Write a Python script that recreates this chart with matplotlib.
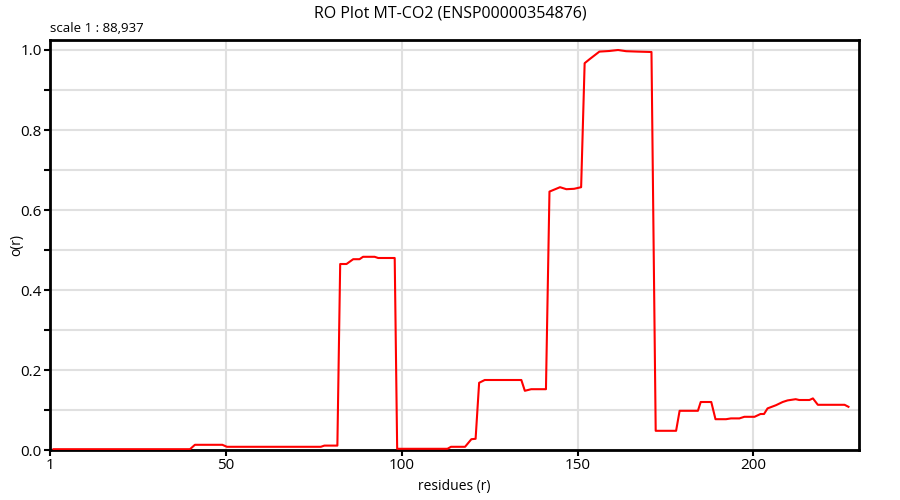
import matplotlib.pyplot as plt
from matplotlib.ticker import MultipleLocator

plt.rcParams['font.family'] = ['Open Sans', 'DejaVu Sans']

# residue positions and RO values
residues = [1, 39.8, 41.2, 49, 50.3, 77, 78, 81.7, 82.5, 84.3, 86.2, 88, 89, 92.3, 93.3,
            98, 98.7, 113, 114, 118, 119.8, 121, 122, 123.6, 134, 135, 136.8, 141,
            142, 145, 146.8, 149, 151, 152, 153.4, 156.2, 159, 161.5, 163.8, 167, 171,
            172.2, 178, 179, 184.2, 185, 188, 189.2, 192.2, 193.6, 196, 197.4, 200.3,
            202, 203, 204, 206.4, 208.3, 209.7, 212, 213, 215.9, 216.9, 218.3, 225.9, 227]
ro_values = [0.002, 0.002, 0.013, 0.013, 0.008, 0.008, 0.011, 0.011, 0.465, 0.465, 0.477,
             0.477, 0.483, 0.483, 0.48, 0.48, 0.003, 0.003, 0.008, 0.008, 0.027, 0.028,
             0.168, 0.175, 0.175, 0.148, 0.152, 0.152, 0.646, 0.657, 0.652, 0.653, 0.657,
             0.967, 0.977, 0.996, 0.9975, 1.0, 0.997, 0.996, 0.995, 0.048, 0.048, 0.098,
             0.098, 0.12, 0.12, 0.077, 0.077, 0.079, 0.079, 0.083, 0.083, 0.09, 0.09,
             0.104, 0.112, 0.12, 0.124, 0.127, 0.125, 0.125, 0.129, 0.113, 0.113, 0.108]

x_ticks = [0, 50, 100, 150, 200]
x_tick_labels = ['1', '50', '100', '150', '200']

fig = plt.figure(figsize=(9, 5), dpi=100)
ax = fig.add_axes([50 / 900, 50 / 500, 809 / 900, 410 / 500])

ax.plot(residues, ro_values, color='#ff0000', linewidth=1.5, zorder=3)

ax.set_xlim(0, 230)
ax.set_ylim(0, 1.025)
ax.set_xticks(x_ticks)
ax.set_xticklabels(x_tick_labels)
ax.yaxis.set_major_locator(MultipleLocator(0.2))
ax.yaxis.set_minor_locator(MultipleLocator(0.1))
ax.yaxis.set_major_formatter(lambda v, p: f'{v:.1f}')

# grid
ax.grid(True, which='both', axis='y', color='#e0e0e0', linewidth=1.5)
ax.grid(True, which='major', axis='x', color='#e0e0e0', linewidth=1.5)
ax.set_axisbelow(True)

for s in ax.spines.values():
    s.set_linewidth(2)
    s.set_color('black')
ax.tick_params(which='both', direction='out', length=4, width=1.5, colors='black',
               labelsize=11, pad=2)

ax.set_xlabel('residues (r)', fontsize=10)
ax.xaxis.set_label_coords(0.5, -29 / 410)
ax.set_ylabel('o(r)', fontsize=10)
ax.yaxis.set_label_coords(-26 / 809, 0.5)

fig.text(0.5, 1 - 14 / 500, 'RO Plot MT-CO2 (ENSP00000354876)', ha='center', va='center',
         fontsize=11.5)
fig.text(50 / 900, 1 - 29 / 500, 'scale 1 : 88,937', ha='left', va='center', fontsize=9.5)

fig.savefig('out.png', dpi=100)
